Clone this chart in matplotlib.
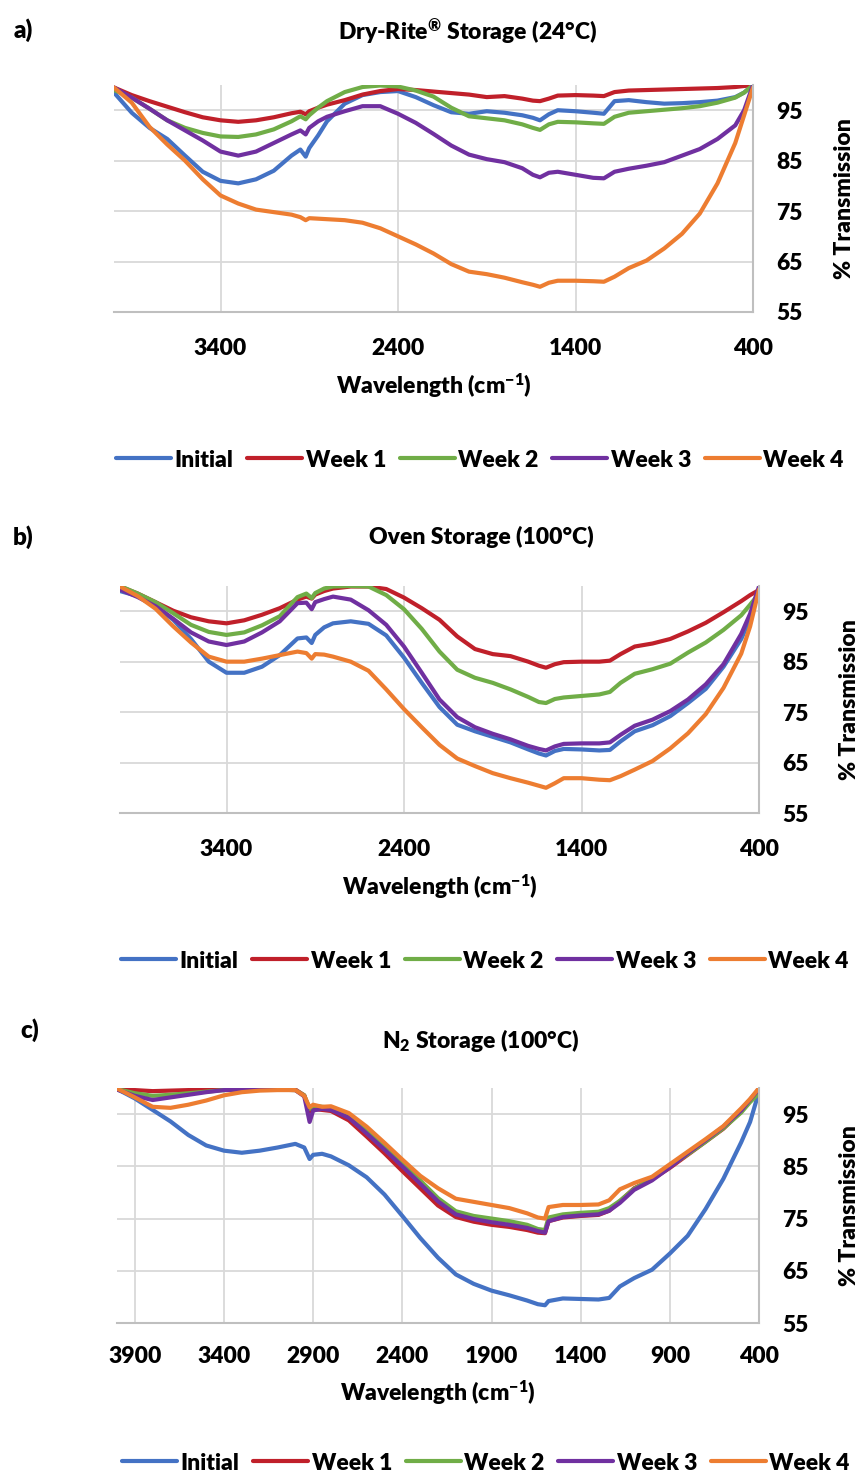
import matplotlib
matplotlib.use('Agg')
import matplotlib.pyplot as plt

plt.rcParams['font.family'] = ['Lato', 'DejaVu Sans']
plt.rcParams['font.weight'] = 'heavy'
plt.rcParams['mathtext.fontset'] = 'custom'
plt.rcParams['mathtext.rm'] = 'Lato:heavy'
plt.rcParams['mathtext.bf'] = 'Lato:heavy'
plt.rcParams['mathtext.it'] = 'Lato:heavy'

W, H = 862, 1475
serie_nombres = ['Initial', 'Week 1', 'Week 2', 'Week 3', 'Week 4']
colores = ['#4472C4', '#C0202A', '#70AD47', '#7030A0', '#ED7D31']

# --- panel a: Dry-Rite storage ---
onda_a = [4000, 3900, 3800, 3700, 3600, 3500, 3400, 3300, 3200, 3100, 3000, 2950, 2920, 2900,
          2850, 2800, 2700, 2600, 2500, 2400, 2300, 2200, 2100, 2000, 1900, 1800, 1700, 1640,
          1600, 1550, 1500, 1400, 1300, 1240, 1180, 1100, 1000, 900, 800, 700, 600, 500, 450, 400]
a_initial = [98.5, 94.5, 91.5, 89.3, 86.0, 82.8, 81.0, 80.5, 81.3, 83.0, 86.0, 87.2, 85.8, 87.5,
             90.0, 92.8, 96.3, 98.0, 98.6, 98.8, 97.6, 96.0, 94.6, 94.3, 94.8, 94.5, 94.0, 93.5,
             93.0, 94.2, 95.0, 94.8, 94.5, 94.3, 96.8, 97.0, 96.6, 96.3, 96.4, 96.6, 96.9, 97.6, 98.5, 100.0]
a_week1 = [99.5, 98.0, 96.8, 95.7, 94.6, 93.6, 93.0, 92.7, 93.0, 93.6, 94.4, 94.7, 94.2, 94.8,
           95.5, 96.1, 97.0, 98.1, 98.8, 99.2, 99.0, 98.7, 98.4, 98.1, 97.6, 97.8, 97.3, 96.9,
           96.8, 97.3, 97.9, 98.0, 97.9, 97.8, 98.6, 98.9, 99.0, 99.1, 99.2, 99.3, 99.4, 99.6, 99.8, 100.0]
a_week2 = [99.0, 97.5, 95.3, 93.0, 91.5, 90.5, 89.8, 89.7, 90.2, 91.2, 92.8, 93.8, 93.2, 94.0,
           95.5, 96.8, 98.6, 99.6, 99.9, 99.7, 98.9, 97.7, 95.5, 93.8, 93.4, 93.0, 92.2, 91.5,
           91.1, 92.2, 92.7, 92.6, 92.4, 92.3, 93.7, 94.5, 94.8, 95.1, 95.4, 95.8, 96.5, 97.5, 98.5, 100.0]
a_week3 = [99.5, 97.5, 95.3, 93.0, 91.0, 89.0, 86.8, 86.0, 86.8, 88.5, 90.2, 91.0, 90.2, 91.5,
           92.8, 93.7, 94.8, 95.8, 95.8, 94.3, 92.5, 90.3, 88.0, 86.2, 85.3, 84.7, 83.5, 82.2,
           81.7, 82.6, 82.8, 82.2, 81.6, 81.5, 82.8, 83.4, 84.0, 84.7, 86.0, 87.3, 89.3, 92.0, 95.0, 100.0]
a_week4 = [99.5, 96.5, 91.7, 88.2, 85.0, 81.3, 78.1, 76.5, 75.3, 74.8, 74.3, 73.8, 73.2, 73.6,
           73.5, 73.4, 73.2, 72.7, 71.6, 70.0, 68.4, 66.6, 64.5, 63.0, 62.5, 61.8, 60.9, 60.4,
           60.0, 60.8, 61.2, 61.2, 61.1, 61.0, 62.0, 63.7, 65.2, 67.6, 70.5, 74.5, 80.5, 88.5, 94.0, 99.5]

# --- panel b: oven storage ---
onda_b = onda_a
b_initial = [99.0, 98.0, 96.0, 93.3, 89.5, 85.0, 82.8, 82.8, 84.0, 86.3, 89.6, 89.8, 88.7, 90.3,
             91.8, 92.6, 93.0, 92.5, 90.2, 85.8, 80.8, 76.0, 72.5, 71.2, 70.1, 69.0, 67.6, 66.8,
             66.4, 67.3, 67.7, 67.6, 67.4, 67.5, 69.2, 71.2, 72.4, 74.2, 76.8, 79.6, 84.0, 89.5, 93.5, 99.3]
b_week1 = [99.9, 98.5, 96.8, 95.1, 93.8, 93.0, 92.6, 93.2, 94.3, 95.6, 97.3, 97.9, 97.5, 98.3,
           99.0, 99.5, 99.9, 99.9, 99.4, 97.7, 95.6, 93.3, 90.0, 87.5, 86.5, 86.1, 85.0, 84.2,
           83.8, 84.5, 84.9, 85.0, 85.0, 85.2, 86.5, 88.0, 88.6, 89.5, 91.0, 92.7, 94.8, 97.0, 98.2, 99.2]
b_week2 = [100.0, 98.5, 96.8, 94.6, 92.3, 90.9, 90.3, 90.8, 92.2, 94.0, 97.8, 98.5, 97.6, 98.6,
           99.5, 99.9, 100.0, 99.9, 98.2, 95.4, 91.5, 87.0, 83.4, 81.8, 80.8, 79.5, 78.0, 77.0,
           76.8, 77.6, 77.9, 78.2, 78.5, 79.0, 80.8, 82.6, 83.5, 84.6, 86.8, 88.8, 91.3, 94.2, 96.3, 98.5]
b_week3 = [99.3, 97.8, 96.0, 93.5, 90.8, 89.0, 88.3, 89.0, 90.8, 93.0, 96.6, 96.7, 95.4, 96.8,
           97.4, 97.9, 97.3, 95.2, 92.3, 88.0, 82.8, 77.5, 74.0, 72.0, 70.7, 69.6, 68.3, 67.7,
           67.4, 68.2, 68.7, 68.8, 68.8, 69.0, 70.5, 72.3, 73.5, 75.2, 77.5, 80.5, 84.5, 90.5, 94.5, 99.9]
b_week4 = [99.9, 98.0, 95.5, 92.0, 88.8, 86.0, 85.0, 85.0, 85.6, 86.3, 87.0, 86.7, 85.6, 86.5,
           86.4, 86.0, 85.0, 83.2, 79.5, 75.6, 72.0, 68.5, 65.8, 64.3, 62.9, 61.9, 61.0, 60.4,
           60.0, 60.9, 61.9, 61.9, 61.6, 61.5, 62.3, 63.6, 65.3, 67.8, 70.8, 74.6, 79.8, 86.6, 92.0, 99.3]

# --- panel c: N2 storage ---
onda_c = [4000, 3900, 3800, 3700, 3600, 3500, 3400, 3300, 3200, 3100, 3000, 2950, 2920, 2900,
          2850, 2800, 2700, 2600, 2500, 2400, 2300, 2200, 2100, 2000, 1900, 1800, 1700, 1640,
          1600, 1580, 1500, 1400, 1300, 1240, 1180, 1100, 1000, 900, 800, 700, 600, 500, 450, 400]
c_initial = [99.8, 98.0, 95.8, 93.6, 91.0, 89.0, 88.0, 87.6, 88.0, 88.6, 89.3, 88.6, 86.4, 87.2,
             87.4, 86.9, 85.2, 82.9, 79.6, 75.5, 71.3, 67.5, 64.3, 62.5, 61.2, 60.3, 59.3, 58.6,
             58.4, 59.2, 59.7, 59.6, 59.5, 59.8, 62.0, 63.6, 65.2, 68.3, 71.7, 76.8, 82.6, 89.6, 93.5, 99.3]
c_week1 = [99.9, 99.6, 99.4, 99.5, 99.6, 99.7, 99.8, 99.8, 99.8, 99.8, 99.7, 98.6, 95.5, 96.0,
           95.8, 95.6, 93.8, 90.7, 87.5, 84.1, 80.8, 77.5, 75.3, 74.4, 73.8, 73.4, 72.8, 72.3,
           72.2, 74.5, 75.2, 75.5, 75.7, 76.5, 78.3, 80.8, 82.5, 84.7, 87.2, 89.7, 92.2, 95.5, 97.5, 99.6]
c_week2 = [99.8, 99.0, 98.5, 98.7, 99.0, 99.3, 99.6, 99.7, 99.7, 99.7, 99.6, 98.6, 96.0, 96.6,
           96.4, 96.2, 94.6, 91.9, 88.8, 85.6, 82.3, 78.9, 76.4, 75.5, 75.0, 74.5, 73.8, 73.0,
           72.8, 75.2, 75.8, 76.1, 76.3, 77.0, 78.4, 80.7, 82.6, 85.0, 87.3, 89.7, 92.3, 95.3, 97.3, 99.0]
c_week3 = [99.7, 98.5, 97.7, 98.2, 98.7, 99.2, 99.6, 99.7, 99.7, 99.7, 99.6, 98.4, 93.5, 95.7,
           96.0, 95.8, 94.3, 91.3, 88.2, 85.0, 81.7, 78.3, 75.8, 74.9, 74.3, 73.8, 73.2, 72.6,
           72.3, 74.5, 75.3, 75.6, 75.8, 76.5, 78.0, 80.5, 82.3, 84.8, 87.5, 90.0, 92.6, 95.7, 97.8, 99.8]
c_week4 = [99.9, 98.2, 96.4, 96.2, 96.8, 97.6, 98.6, 99.2, 99.5, 99.6, 99.6, 98.5, 96.3, 96.8,
           96.4, 96.5, 95.2, 92.6, 89.5, 86.3, 83.2, 80.8, 78.8, 78.2, 77.6, 77.0, 76.0, 75.2,
           75.0, 77.2, 77.6, 77.6, 77.7, 78.5, 80.6, 81.8, 83.0, 85.4, 87.8, 90.2, 92.7, 96.1, 97.9, 100.0]

ticks_ab = [3400, 2400, 1400, 400]
ticks_c = [3900, 3400, 2900, 2400, 1900, 1400, 900, 400]


def fx(px):
    return px / W


def fy(py):
    return 1 - py / H


fig = plt.figure(figsize=(8.62, 14.75), dpi=100)

paneles = [
    dict(caja=(114, 753, 85, 312), onda=onda_a,
         series=[a_initial, a_week1, a_week2, a_week3, a_week4], ticks=ticks_ab,
         letra='a)', letra_xy=(23, 30), titulo='Dry-Rite$^{®}$ Storage (24°C)', titulo_xy=(467, 32),
         xlab_y=386, ylab_x=845, leg_y=460, leg_x=480, xpad=19),
    dict(caja=(120, 759, 586, 813), onda=onda_b,
         series=[b_initial, b_week1, b_week2, b_week3, b_week4], ticks=ticks_ab,
         letra='b)', letra_xy=(23, 537), titulo='Oven Storage (100°C)', titulo_xy=(481, 537),
         xlab_y=887, ylab_x=850, leg_y=961, leg_x=485, xpad=19),
    dict(caja=(117, 759, 1088, 1323), onda=onda_c,
         series=[c_initial, c_week1, c_week2, c_week3, c_week4], ticks=ticks_c,
         letra='c)', letra_xy=(30, 1030), titulo='N$_2$ Storage (100°C)', titulo_xy=(480, 1040),
         xlab_y=1393, ylab_x=850, leg_y=1463, leg_x=486, xpad=16.5),
]

fs = 16.5

for p in paneles:
    izq, der, arr, aba = p['caja']
    ax = fig.add_axes([fx(izq), fy(aba), (der - izq) / W, (aba - arr) / H])
    for i in range(5):
        ax.plot(p['onda'], p['series'][i], color=colores[i], lw=3.0,
                label=serie_nombres[i], solid_capstyle='round')
    ax.set_xlim(4000, 400)
    ax.set_ylim(55, 100)
    ax.set_xticks(p['ticks'])
    ax.set_yticks([55, 65, 75, 85, 95])
    ax.yaxis.tick_right()
    ax.tick_params(length=0, labelsize=fs)
    ax.tick_params(axis='x', pad=p['xpad'])
    ax.tick_params(axis='y', pad=17)
    ax.grid(True, color='#D9D9D9', lw=1.3)
    ax.set_axisbelow(True)
    for s in ['left', 'top']:
        ax.spines[s].set_visible(False)
    for s in ['bottom', 'right']:
        ax.spines[s].set_color('#BFBFBF')
        ax.spines[s].set_linewidth(1.5)

    fig.text(fx(p['letra_xy'][0]), fy(p['letra_xy'][1]), p['letra'], fontsize=fs + 1,
             ha='center', va='center')
    fig.text(fx(p['titulo_xy'][0]), fy(p['titulo_xy'][1]), p['titulo'], fontsize=fs,
             ha='center', va='center')
    fig.text(fx((izq + der) / 2), fy(p['xlab_y']), 'Wavelength (cm$^{-1}$)', fontsize=fs,
             ha='center', va='center')
    fig.text(fx(p['ylab_x']), fy((arr + aba) / 2), '% Transmission', fontsize=fs,
             ha='center', va='center', rotation=90)
    fig.legend(*ax.get_legend_handles_labels(), loc='center',
               bbox_to_anchor=(fx(p['leg_x']), fy(p['leg_y'])), ncol=5, frameon=False,
               fontsize=fs, handlelength=2.4, handletextpad=0.15, columnspacing=0.6)

fig.savefig('out.png', dpi=100)
